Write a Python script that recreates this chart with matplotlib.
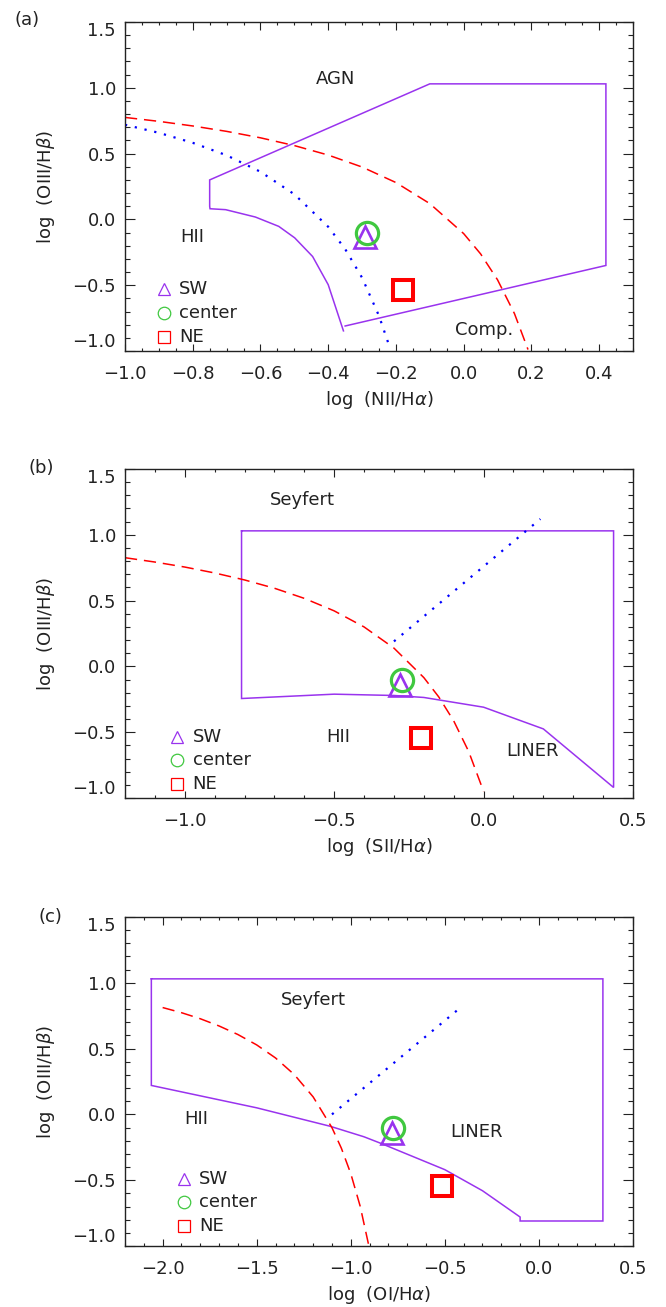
import matplotlib.pyplot as plt
from matplotlib.ticker import MultipleLocator

plt.rcParams['font.family'] = 'DejaVu Sans'
plt.rcParams['font.size'] = 13
plt.rcParams['mathtext.fontset'] = 'dejavusans'

purple = '#9933ee'
green = '#40c840'
red = '#ff0000'
blue = '#0000ff'
textc = '#222222'

# measured line ratios, one value per panel (a) NII, (b) SII, (c) OI
sw_x = [-0.29, -0.28, -0.78]
sw_y = [-0.135, -0.14, -0.145]
center_x = [-0.286, -0.273, -0.777]
center_y = [-0.10, -0.105, -0.10]
ne_x = [-0.178, -0.21, -0.517]
ne_y = [-0.54, -0.545, -0.546]

# panel (a): NII/Halpha
kew_nii_x = [-1.0, -0.9, -0.8, -0.7, -0.6, -0.5, -0.4, -0.3, -0.2, -0.1, 0.0, 0.05, 0.1, 0.15, 0.19]
kew_nii_y = [0.775, 0.745, 0.710, 0.669, 0.620, 0.561, 0.489, 0.398, 0.280, 0.120, -0.108, -0.262, -0.459, -0.716, -0.989]
kau_nii_x = [-1.0, -0.9, -0.8, -0.7, -0.6, -0.5, -0.4, -0.35, -0.3, -0.25, -0.22]
kau_nii_y = [0.719, 0.658, 0.582, 0.487, 0.362, 0.191, -0.056, -0.225, -0.443, -0.733, -0.959]
box_a_x = [-0.35, 0.42, 0.42, -0.10, -0.75, -0.75, -0.749, -0.703, -0.615, -0.546, -0.499, -0.446, -0.40, -0.355]
box_a_y = [-0.81, -0.35, 1.03, 1.03, 0.30, 0.10, 0.081, 0.074, 0.018, -0.053, -0.14, -0.282, -0.496, -0.847]

# panel (b): SII/Halpha
kew_sii_x = [-1.2, -1.1, -1.0, -0.9, -0.8, -0.7, -0.6, -0.5, -0.4, -0.3, -0.2, -0.15, -0.1, -0.05, 0.0]
kew_sii_y = [0.826, 0.793, 0.755, 0.710, 0.657, 0.594, 0.517, 0.422, 0.300, 0.139, -0.085, -0.232, -0.414, -0.646, -0.95]
sey_sii_x = [-0.30, 0.19]
sey_sii_y = [0.19, 1.12]
box_b_x = [-0.81, -0.81, -0.50, -0.30, -0.20, 0.0, 0.20, 0.435, 0.435, -0.81]
box_b_y = [1.03, -0.244, -0.211, -0.221, -0.236, -0.31, -0.475, -0.92, 1.03, 1.03]

# panel (c): OI/Halpha
kew_oi_x = [-2.0, -1.9, -1.8, -1.7, -1.6, -1.5, -1.4, -1.3, -1.2, -1.1, -1.05, -1.0, -0.95, -0.9]
kew_oi_y = [0.812, 0.773, 0.727, 0.672, 0.607, 0.528, 0.429, 0.302, 0.133, -0.101, -0.257, -0.450, -0.698, -1.025]
sey_oi_x = [-1.10, -0.41]
sey_oi_y = [0.0, 0.82]
box_c_x = [-2.06, -2.06, -1.50, -1.11, -0.93, -0.84, -0.50, -0.30, -0.10, -0.10, 0.34, 0.34, -2.06]
box_c_y = [1.03, 0.22, 0.05, -0.09, -0.17, -0.22, -0.42, -0.58, -0.78, -0.81, -0.81, 1.03, 1.03]

xlabels = [r'log  (NII/H$\alpha$)', r'log  (SII/H$\alpha$)', r'log  (OI/H$\alpha$)']
panel_tags = ['(a)', '(b)', '(c)']
yticks = [-1.0, -0.5, 0.0, 0.5, 1.0, 1.5]


def fmt(v):
    s = '%.1f' % abs(v)
    return ('\u2212' + s) if v < 0 else s


W, H = 666, 1307
fig = plt.figure(figsize=(W / 100, H / 100), dpi=100)
tops = [22, 469, 917]
ax_h = 329
ax_w = 508

setups = [
    dict(xlim=(-1.0, 0.5), xmin=0.05, xticks=[-1.0, -0.8, -0.6, -0.4, -0.2, 0.0, 0.2, 0.4]),
    dict(xlim=(-1.2, 0.5), xmin=0.1, xticks=[-1.0, -0.5, 0.0, 0.5]),
    dict(xlim=(-2.2, 0.5), xmin=0.1, xticks=[-2.0, -1.5, -1.0, -0.5, 0.0, 0.5]),
]
curves = [
    (kew_nii_x, kew_nii_y, kau_nii_x, kau_nii_y, box_a_x, box_a_y),
    (kew_sii_x, kew_sii_y, sey_sii_x, sey_sii_y, box_b_x, box_b_y),
    (kew_oi_x, kew_oi_y, sey_oi_x, sey_oi_y, box_c_x, box_c_y),
]
region_text = [
    [('AGN', -0.377, 1.068), ('HII', -0.80, -0.135), ('Comp.', 0.059, -0.84)],
    [('Seyfert', -0.608, 1.266), ('HII', -0.485, -0.534), ('LINER', 0.165, -0.64)],
    [('Seyfert', -1.197, 0.867), ('HII', -1.82, -0.036), ('LINER', -0.333, -0.132)],
]
legend_pos = [(0.077, 0.188), (0.103, 0.186), (0.116, 0.205)]
tag_pos = [(26.8, 20), (41.6, 468), (50.6, 917)]

for i in range(3):
    s = setups[i]
    ax = fig.add_axes([125 / W, 1 - (tops[i] + ax_h) / H, ax_w / W, ax_h / H])
    kx, ky, dx_, dy_, bx, by = curves[i]
    ax.plot(bx, by, color=purple, lw=1.1, solid_joinstyle='miter')
    ax.plot(kx, ky, color=red, lw=1.1, linestyle=(0, (8, 4.5)))
    ax.plot(dx_, dy_, color=blue, lw=1.6, linestyle=(0, (1, 3.5)))

    ax.plot(sw_x[i], sw_y[i], marker='^', ms=16, mfc='none', mec=purple, mew=1.9, linestyle='none')
    ax.plot(center_x[i], center_y[i], marker='o', ms=16, mfc='none', mec=green, mew=2.3, linestyle='none')
    ax.plot(ne_x[i], ne_y[i], marker='s', ms=15, mfc='none', mec=red, mew=2.9, linestyle='none')

    for lab, tx, ty in region_text[i]:
        ax.text(tx, ty, lab, ha='center', va='center', color=textc)

    lx, ly = legend_pos[i]
    items = [('SW', '^', purple), ('center', 'o', green), ('NE', 's', red)]
    for j, (lab, m, c) in enumerate(items):
        yy = ly - j * 0.072
        ax.plot([lx], [yy], marker=m, ms=9, mfc='none', mec=c, mew=0.9,
                linestyle='none', transform=ax.transAxes)
        ax.text(lx + 0.03, yy, lab, transform=ax.transAxes, ha='left', va='center', color=textc)

    ax.set_xlim(*s['xlim'])
    ax.set_ylim(-1.0, 1.5)
    ax.set_xticks(s['xticks'])
    ax.xaxis.set_minor_locator(MultipleLocator(s['xmin']))
    ax.set_yticks(yticks)
    ax.yaxis.set_minor_locator(MultipleLocator(0.1))
    ax.set_xticklabels([fmt(v) for v in s['xticks']])
    ax.set_yticklabels([fmt(v) for v in yticks])

    ax.tick_params(axis='both', which='both', direction='in', top=True, right=True,
                   colors='#222222', labelcolor=textc, width=0.8)
    ax.tick_params(axis='x', which='major', length=5.4, pad=10)
    ax.tick_params(axis='x', which='minor', length=2.5)
    ax.tick_params(axis='y', which='major', length=7.2, pad=6.5)
    ax.tick_params(axis='y', which='minor', length=3.6)
    for sp in ax.spines.values():
        sp.set_linewidth(1.0)
        sp.set_color('#222222')

    ylabs = ax.get_yticklabels()
    ylabs[0].set_va('bottom')
    ylabs[-1].set_va('top')

    ax.set_xlabel(xlabels[i], va='center', color=textc)
    ax.xaxis.set_label_coords(0.5, -49 / ax_h)
    ax.set_ylabel(r'log  (OIII/H$\beta$)', va='center', color=textc)
    ax.yaxis.set_label_coords((46 - 125) / ax_w, 0.5)

    tx, ty = tag_pos[i]
    fig.text(tx / W, 1 - ty / H, panel_tags[i], ha='center', va='center', color=textc)

fig.savefig('out.png', dpi=100)
